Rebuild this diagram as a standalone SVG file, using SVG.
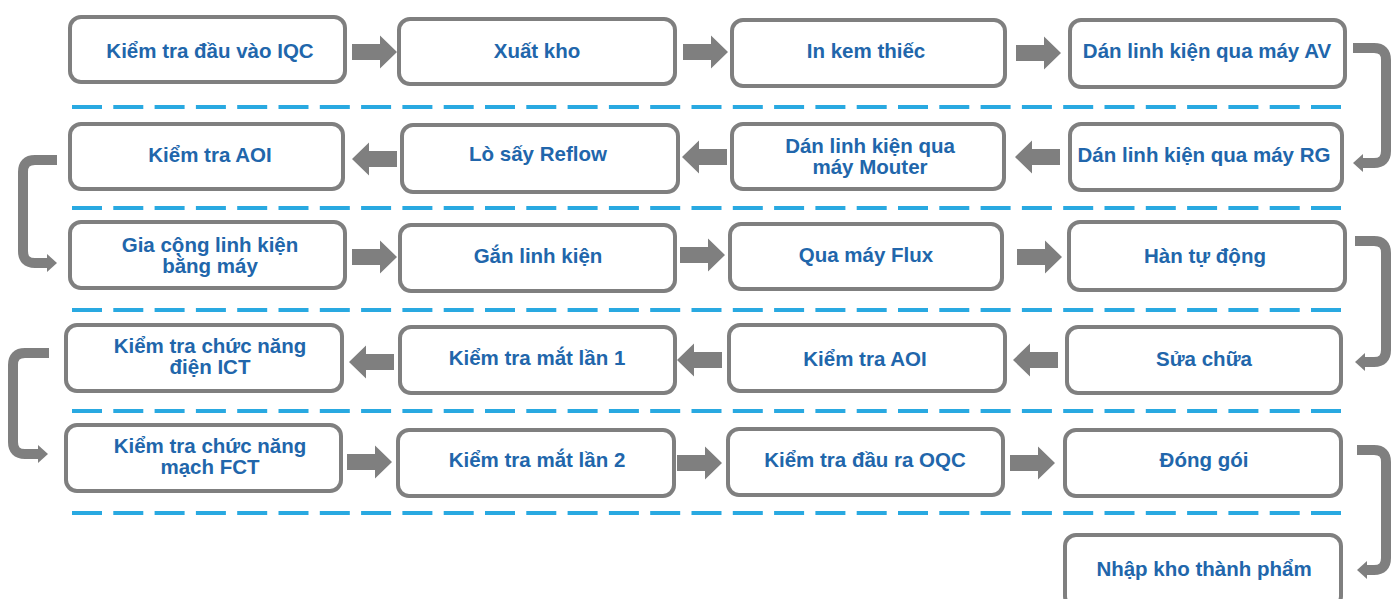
<svg xmlns="http://www.w3.org/2000/svg" xmlns:xlink="http://www.w3.org/1999/xlink" width="1391" height="599" viewBox="0 0 1391 599">
<style>
.box{fill:#ffffff;stroke:#7f7f7f;stroke-width:4}
.lbl{font-family:"Liberation Sans",Arial,sans-serif;font-weight:bold;font-size:20.5px;fill:#2166ab;text-anchor:middle}
.dash{stroke:#29a9e1;stroke-width:4;stroke-dasharray:30 11.3;fill:none}
.conn{fill:none;stroke:#7f7f7f;stroke-width:10}
.head{fill:#7f7f7f}
.blk{fill:#7f7f7f}
</style>
<defs>
<path id="arrR" d="M0,-8 H28 V-16.5 L45,0 L28,16.5 V8 H0 Z"/>
<path id="arrL" d="M0,0 L17,-16.5 V-8 H45 V8 H17 V16.5 Z"/>
</defs>
<rect width="1391" height="599" fill="#ffffff"/>
<g id="separators">
<line class="dash" x1="72" y1="107" x2="1343" y2="107"/>
<line class="dash" x1="72" y1="208" x2="1343" y2="208"/>
<line class="dash" x1="72" y1="310" x2="1343" y2="310"/>
<line class="dash" x1="72" y1="411" x2="1343" y2="411"/>
<line class="dash" x1="72" y1="513" x2="1343" y2="513"/>
</g>
<g id="connectors">
<use href="#arrR" class="blk" x="352" y="52"/>
<use href="#arrR" class="blk" x="683" y="52"/>
<use href="#arrR" class="blk" x="1016" y="53"/>
<use href="#arrL" class="blk" x="352" y="159"/>
<use href="#arrL" class="blk" x="682" y="157"/>
<use href="#arrL" class="blk" x="1015" y="157"/>
<use href="#arrR" class="blk" x="352" y="257"/>
<use href="#arrR" class="blk" x="680" y="255"/>
<use href="#arrR" class="blk" x="1017" y="257"/>
<use href="#arrL" class="blk" x="349" y="362"/>
<use href="#arrL" class="blk" x="677" y="360"/>
<use href="#arrL" class="blk" x="1013" y="360"/>
<use href="#arrR" class="blk" x="347" y="462"/>
<use href="#arrR" class="blk" x="677" y="463"/>
<use href="#arrR" class="blk" x="1010" y="463"/>
<path class="conn" d="M1353,48 H1374 Q1386,48 1386,60 V151 Q1386,163 1374,163 H1362"/>
<polygon class="head" points="1353,163 1363,154 1363,172"/>
<path class="conn" d="M57,160 H35 Q23,160 23,172 V251 Q23,263 35,263 H48"/>
<polygon class="head" points="57,263 47,254 47,272"/>
<path class="conn" d="M1355,241 H1374 Q1386,241 1386,253 V350 Q1386,362 1374,362 H1364"/>
<polygon class="head" points="1355,362 1365,353 1365,371"/>
<path class="conn" d="M49,353 H25 Q13,353 13,365 V442 Q13,454 25,454 H39"/>
<polygon class="head" points="48,454 38,445 38,463"/>
<path class="conn" d="M1357,450 H1374 Q1386,450 1386,462 V558 Q1386,570 1374,570 H1366"/>
<polygon class="head" points="1357,570 1367,561 1367,579"/>
</g>
<g id="n1"><rect class="box" x="70" y="17" width="275" height="65" rx="11"/><text class="lbl" x="210" y="58">Kiểm tra đầu vào IQC</text></g>
<g id="n2"><rect class="box" x="399" y="19" width="276" height="65" rx="11"/><text class="lbl" x="537" y="58">Xuất kho</text></g>
<g id="n3"><rect class="box" x="732" y="20" width="273" height="66" rx="11"/><text class="lbl" x="866" y="58">In kem thiếc</text></g>
<g id="n4"><rect class="box" x="1070" y="20" width="275" height="67" rx="11"/><text class="lbl" x="1207" y="58">Dán linh kiện qua máy AV</text></g>
<g id="n5"><rect class="box" x="70" y="124" width="273" height="65" rx="11"/><text class="lbl" x="210" y="162">Kiểm tra AOI</text></g>
<g id="n6"><rect class="box" x="402" y="125" width="276" height="67" rx="11"/><text class="lbl" x="538" y="161">Lò sấy Reflow</text></g>
<g id="n7"><rect class="box" x="732" y="124" width="272" height="65" rx="11"/><text class="lbl" x="870" y="153">Dán linh kiện qua</text><text class="lbl" x="870" y="174">máy Mouter</text></g>
<g id="n8"><rect class="box" x="1070" y="124" width="272" height="66" rx="11"/><text class="lbl" x="1204" y="162">Dán linh kiện qua máy RG</text></g>
<g id="n9"><rect class="box" x="70" y="222" width="275" height="66" rx="11"/><text class="lbl" x="210" y="252">Gia cộng linh kiện</text><text class="lbl" x="210" y="273">bằng máy</text></g>
<g id="n10"><rect class="box" x="400" y="225" width="275" height="66" rx="11"/><text class="lbl" x="538" y="263">Gắn linh kiện</text></g>
<g id="n11"><rect class="box" x="730" y="224" width="272" height="65" rx="11"/><text class="lbl" x="866" y="262">Qua máy Flux</text></g>
<g id="n12"><rect class="box" x="1069" y="222" width="276" height="68" rx="11"/><text class="lbl" x="1205" y="263">Hàn tự động</text></g>
<g id="n13"><rect class="box" x="66" y="325" width="276" height="66" rx="11"/><text class="lbl" x="210" y="353">Kiểm tra chức năng</text><text class="lbl" x="210" y="374">điện ICT</text></g>
<g id="n14"><rect class="box" x="400" y="327" width="275" height="66" rx="11"/><text class="lbl" x="537" y="365">Kiểm tra mắt lần 1</text></g>
<g id="n15"><rect class="box" x="729" y="325" width="276" height="66" rx="11"/><text class="lbl" x="865" y="366">Kiểm tra AOI</text></g>
<g id="n16"><rect class="box" x="1067" y="327" width="274" height="66" rx="11"/><text class="lbl" x="1204" y="366">Sửa chữa</text></g>
<g id="n17"><rect class="box" x="66" y="425" width="275" height="66" rx="11"/><text class="lbl" x="210" y="453">Kiểm tra chức năng</text><text class="lbl" x="210" y="474">mạch FCT</text></g>
<g id="n18"><rect class="box" x="398" y="430" width="276" height="66" rx="11"/><text class="lbl" x="537" y="467">Kiểm tra mắt lần 2</text></g>
<g id="n19"><rect class="box" x="728" y="429" width="275" height="66" rx="11"/><text class="lbl" x="865" y="467">Kiểm tra đầu ra OQC</text></g>
<g id="n20"><rect class="box" x="1065" y="430" width="276" height="66" rx="11"/><text class="lbl" x="1204" y="467">Đóng gói</text></g>
<g id="n21"><rect class="box" x="1065" y="535" width="276" height="72" rx="11"/><text class="lbl" x="1204" y="576">Nhập kho thành phẩm</text></g>
</svg>
